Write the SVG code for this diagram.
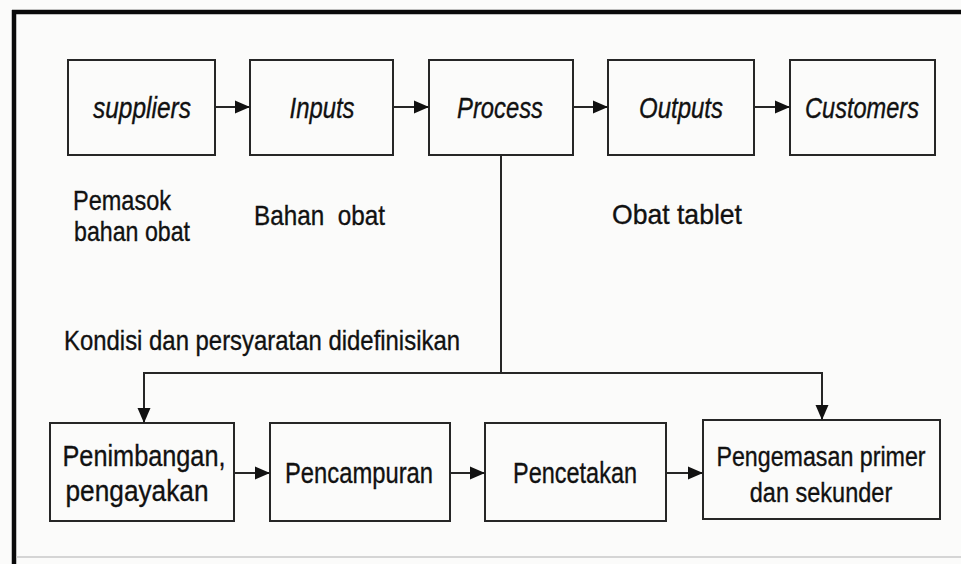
<svg xmlns="http://www.w3.org/2000/svg" width="961" height="564" viewBox="0 0 961 564">
  <defs>
    <marker id="arrow" markerUnits="userSpaceOnUse" markerWidth="17" markerHeight="15" viewBox="0 0 17 15" refX="16" refY="7.5" orient="auto">
      <path d="M1,1 L16,7.5 L1,14 Z" fill="#111"/>
    </marker>
    <style>
      .box { fill: none; stroke: #262626; stroke-width: 2; }
      .edge { fill: none; stroke: #262626; stroke-width: 2; }
      text { fill: #111; stroke: #111; stroke-width: 0.35; font-family: "Liberation Sans", Arial, sans-serif; }
      .it { font-style: italic; font-size: 29px; text-anchor: middle; }
      .lbl { font-size: 28px; }
      .bx { font-size: 30px; text-anchor: middle; }
      .bx2 { font-size: 28px; text-anchor: middle; }
    </style>
  </defs>

  <!-- paper -->
  <rect x="0" y="0" width="961" height="564" fill="#fbfbfa"/>

  <!-- frame -->
  <g id="frame">
    <line x1="14" y1="10" x2="14" y2="564" stroke="#0a0a0a" stroke-width="4.5"/>
    <line x1="12" y1="12" x2="961" y2="12" stroke="#0a0a0a" stroke-width="4.5"/>
    <line x1="16" y1="557" x2="961" y2="557" stroke="#c8c8c8" stroke-width="1.5"/>
  </g>

  <!-- top row -->
  <g id="suppliers">
    <rect class="box" x="68" y="60" width="147" height="95"/>
    <text class="it" x="142" y="118" textLength="98" lengthAdjust="spacingAndGlyphs">suppliers</text>
  </g>
  <g id="inputs">
    <rect class="box" x="250" y="60" width="143" height="95"/>
    <text class="it" x="322" y="118" textLength="65" lengthAdjust="spacingAndGlyphs">Inputs</text>
  </g>
  <g id="process">
    <rect class="box" x="429" y="60" width="144" height="95"/>
    <text class="it" x="500" y="118" textLength="86" lengthAdjust="spacingAndGlyphs">Process</text>
  </g>
  <g id="outputs">
    <rect class="box" x="608" y="60" width="146" height="95"/>
    <text class="it" x="681" y="118" textLength="84" lengthAdjust="spacingAndGlyphs">Outputs</text>
  </g>
  <g id="customers">
    <rect class="box" x="790" y="60" width="145" height="95"/>
    <text class="it" x="862" y="118" textLength="114" lengthAdjust="spacingAndGlyphs">Customers</text>
  </g>

  <!-- captions -->
  <g id="captions">
    <text class="lbl" x="73" y="210" textLength="98" lengthAdjust="spacingAndGlyphs">Pemasok</text>
    <text class="lbl" x="74" y="241" textLength="116" lengthAdjust="spacingAndGlyphs">bahan obat</text>
    <text class="lbl" x="254" y="225" textLength="131" lengthAdjust="spacingAndGlyphs" xml:space="preserve">Bahan  obat</text>
    <text class="lbl" x="612" y="224" textLength="130" lengthAdjust="spacingAndGlyphs">Obat tablet</text>
    <text class="lbl" x="64" y="350" textLength="396" lengthAdjust="spacingAndGlyphs">Kondisi dan persyaratan didefinisikan</text>
  </g>

  <!-- bottom row -->
  <g id="penimbangan">
    <rect class="box" x="50" y="423" width="184" height="98"/>
    <text class="bx" x="144" y="466" textLength="163" lengthAdjust="spacingAndGlyphs">Penimbangan,</text>
    <text class="bx" x="137" y="501" textLength="143" lengthAdjust="spacingAndGlyphs">pengayakan</text>
  </g>
  <g id="pencampuran">
    <rect class="box" x="270" y="423" width="180" height="98"/>
    <text class="bx" x="359" y="483" textLength="148" lengthAdjust="spacingAndGlyphs">Pencampuran</text>
  </g>
  <g id="pencetakan">
    <rect class="box" x="485" y="423" width="181" height="98"/>
    <text class="bx" x="575" y="483" textLength="124" lengthAdjust="spacingAndGlyphs">Pencetakan</text>
  </g>
  <g id="pengemasan">
    <rect class="box" x="703" y="420" width="237" height="99"/>
    <!-- condensed horizontally so the long label fits the box -->
    <text class="bx2" transform="translate(821,466) scale(0.83,1)" x="0" y="0">Pengemasan primer</text>
    <text class="bx2" transform="translate(821,502) scale(0.84,1)" x="0" y="0">dan sekunder</text>
  </g>

  <!-- connectors -->
  <g id="connectors">
    <line class="edge" x1="215" y1="107" x2="250" y2="107" marker-end="url(#arrow)"/>
    <line class="edge" x1="393" y1="107" x2="429" y2="107" marker-end="url(#arrow)"/>
    <line class="edge" x1="573" y1="107" x2="608" y2="107" marker-end="url(#arrow)"/>
    <line class="edge" x1="754" y1="107" x2="790" y2="107" marker-end="url(#arrow)"/>

    <line class="edge" x1="501" y1="155" x2="501" y2="373"/>
    <polyline class="edge" points="144,423 144,373 822,373 822,420"/>
    <line class="edge" x1="144" y1="385" x2="144" y2="423" marker-end="url(#arrow)"/>
    <line class="edge" x1="822" y1="385" x2="822" y2="420" marker-end="url(#arrow)"/>

    <line class="edge" x1="234" y1="473" x2="270" y2="473" marker-end="url(#arrow)"/>
    <line class="edge" x1="450" y1="473" x2="485" y2="473" marker-end="url(#arrow)"/>
    <line class="edge" x1="666" y1="473" x2="703" y2="473" marker-end="url(#arrow)"/>
  </g>
</svg>
